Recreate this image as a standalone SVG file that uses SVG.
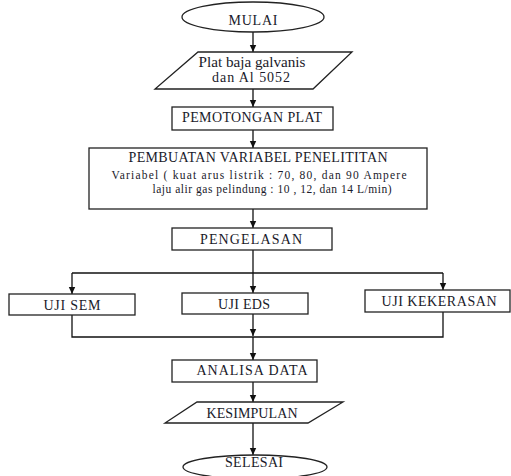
<svg xmlns="http://www.w3.org/2000/svg" width="511" height="476" viewBox="0 0 511 476">
<defs>
<style>
.s{fill:#fff;stroke:#222;stroke-width:1.3}
.t{font-family:"Liberation Serif","Times New Roman",serif;font-size:14px;fill:#1a1a2a;text-anchor:middle}
.v{font-size:11.5px}
.c{fill:none;stroke:#111;stroke-width:1.3}
</style>
<marker id="a" markerWidth="8" markerHeight="8" refX="7" refY="4" orient="auto" markerUnits="userSpaceOnUse">
<path d="M0,0.8 L7,4 L0,7.2 Z" fill="#111"/>
</marker>
</defs>
<rect width="511" height="476" fill="#fff"/>
<g id="connectors">
<line class="c" x1="253" y1="32" x2="253" y2="52" marker-end="url(#a)"/>
<line class="c" x1="253" y1="89" x2="253" y2="107" marker-end="url(#a)"/>
<line class="c" x1="253" y1="130" x2="253" y2="148" marker-end="url(#a)"/>
<line class="c" x1="253" y1="209" x2="253" y2="228" marker-end="url(#a)"/>
<line class="c" x1="253" y1="250" x2="253" y2="273"/>
<line class="c" x1="72" y1="273" x2="443" y2="273"/>
<line class="c" x1="72" y1="273" x2="72" y2="294" marker-end="url(#a)"/>
<line class="c" x1="253" y1="273" x2="253" y2="293" marker-end="url(#a)"/>
<line class="c" x1="443" y1="273" x2="443" y2="290" marker-end="url(#a)"/>
<polyline class="c" points="72,315 72,337 443,337 443,312"/>
<line class="c" x1="253" y1="314" x2="253" y2="336" marker-end="url(#a)"/>
<line class="c" x1="253" y1="337" x2="253" y2="360" marker-end="url(#a)"/>
<line class="c" x1="253" y1="382" x2="253" y2="402" marker-end="url(#a)"/>
<line class="c" x1="253" y1="423" x2="253" y2="455" marker-end="url(#a)"/>
</g>
<g id="mulai">
<ellipse class="s" cx="253" cy="17" rx="71" ry="15"/>
<text class="t" x="253" y="25" textLength="49" lengthAdjust="spacing">MULAI</text>
</g>
<g id="plat">
<polygon class="s" points="198,52 352,52 313,89 155,89"/>
<text class="t" x="252" y="67" textLength="107" lengthAdjust="spacingAndGlyphs">Plat baja galvanis</text>
<text class="t" x="251" y="82" textLength="78" lengthAdjust="spacing">dan Al 5052</text>
</g>
<g id="pemotongan">
<rect class="s" x="172" y="107" width="161" height="23"/>
<text class="t" x="252" y="122" textLength="140" lengthAdjust="spacing">PEMOTONGAN PLAT</text>
</g>
<g id="pembuatan">
<rect class="s" x="89" y="148" width="338" height="61"/>
<text class="t" x="258" y="162" textLength="259" lengthAdjust="spacing">PEMBUATAN VARIABEL PENELITITAN</text>
<text class="t v" x="259" y="179" textLength="295" lengthAdjust="spacing">Variabel ( kuat arus listrik : 70, 80, dan 90 Ampere</text>
<text class="t v" x="272" y="192.5" textLength="239" lengthAdjust="spacing">laju alir gas pelindung : 10 , 12, dan 14 L/min)</text>
</g>
<g id="pengelasan">
<rect class="s" x="172" y="228" width="160" height="22"/>
<text class="t" x="251" y="244" textLength="102" lengthAdjust="spacing">PENGELASAN</text>
</g>
<g id="ujisem">
<rect class="s" x="9" y="294" width="126" height="21"/>
<text class="t" x="72" y="310" textLength="57" lengthAdjust="spacing">UJI SEM</text>
</g>
<g id="ujieds">
<rect class="s" x="182" y="293" width="126" height="21"/>
<text class="t" x="244" y="309" textLength="52" lengthAdjust="spacing">UJI EDS</text>
</g>
<g id="ujikekerasan">
<rect class="s" x="365" y="290" width="145" height="22"/>
<text class="t" x="439" y="306" textLength="115" lengthAdjust="spacing">UJI KEKERASAN</text>
</g>
<g id="analisa">
<rect class="s" x="172" y="360" width="145" height="22"/>
<text class="t" x="252" y="375" textLength="111" lengthAdjust="spacing">ANALISA DATA</text>
</g>
<g id="kesimpulan">
<polygon class="s" points="197,402 343,402 308,423 165,423"/>
<text class="t" x="252" y="418" textLength="91" lengthAdjust="spacing">KESIMPULAN</text>
</g>
<g id="selesai">
<ellipse class="s" cx="255" cy="467" rx="72" ry="12"/>
<text class="t" x="254" y="467" textLength="58" lengthAdjust="spacing">SELESAI</text>
</g>
</svg>
